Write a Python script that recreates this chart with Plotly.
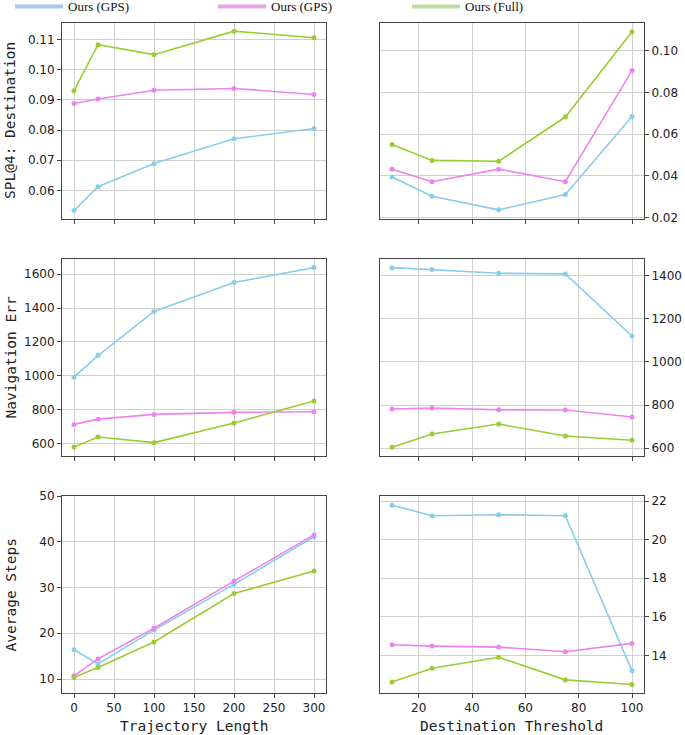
import plotly.graph_objects as go

# ---------------- data ----------------
traj_len = [0, 30, 100, 200, 300]
dest_thr = [10, 25, 50, 75, 100]

series_names = ["Ours (GPS)", "Ours (GPS)", "Ours (Full)"]

# SPL@4: Destination
spl_traj_blue = [0.0533, 0.0612, 0.0689, 0.0771, 0.0805]
spl_traj_pink = [0.0888, 0.0903, 0.0932, 0.0938, 0.0918]
spl_traj_green = [0.0930, 0.1083, 0.1050, 0.1128, 0.1106]
spl_thr_blue = [0.0394, 0.0302, 0.0237, 0.0310, 0.0685]
spl_thr_pink = [0.0432, 0.0372, 0.0432, 0.0372, 0.0905]
spl_thr_green = [0.0550, 0.0474, 0.0470, 0.0682, 0.1091]

# Navigation Err
nav_traj_blue = [991, 1119, 1380, 1551, 1639]
nav_traj_pink = [712, 743, 771, 783, 787]
nav_traj_green = [578, 637, 604, 720, 850]
nav_thr_blue = [1437, 1428, 1411, 1408, 1120]
nav_thr_pink = [782, 786, 778, 777, 745]
nav_thr_green = [605, 666, 712, 657, 637]

# Average Steps
steps_traj_blue = [16.4, 13.3, 20.7, 30.7, 41.1]
steps_traj_pink = [10.7, 14.4, 21.1, 31.4, 41.5]
steps_traj_green = [10.4, 12.5, 18.1, 28.7, 33.6]
steps_thr_blue = [21.78, 21.24, 21.29, 21.24, 13.2]
steps_thr_pink = [14.55, 14.48, 14.43, 14.19, 14.62]
steps_thr_green = [12.62, 13.33, 13.90, 12.73, 12.49]

# ---------------- styling ----------------
line_colors = ["#87CEEB", "#EE82EE", "#9ACD32"]
legend_colors = ["#a9c8ec", "#e6a2e2", "#b9dca4"]

W, H = 685, 735
xdom_left = [62 / W, 326 / W]
xdom_right = [380 / W, 644 / W]
rows_px = [(23, 219), (259, 456), (496, 693)]
ydoms = [[1 - b / H, 1 - t / H] for (t, b) in rows_px]

fig = go.Figure()

panels = [
    (0, 0, traj_len, [spl_traj_blue, spl_traj_pink, spl_traj_green]),
    (0, 1, dest_thr, [spl_thr_blue, spl_thr_pink, spl_thr_green]),
    (1, 0, traj_len, [nav_traj_blue, nav_traj_pink, nav_traj_green]),
    (1, 1, dest_thr, [nav_thr_blue, nav_thr_pink, nav_thr_green]),
    (2, 0, traj_len, [steps_traj_blue, steps_traj_pink, steps_traj_green]),
    (2, 1, dest_thr, [steps_thr_blue, steps_thr_pink, steps_thr_green]),
]

yranges = [
    [0.0505, 0.1155], [0.0193, 0.1133],
    [525, 1690], [564, 1477],
    [6.95, 50], [12.05, 22.26],
]
ytickvals = [
    [0.06, 0.07, 0.08, 0.09, 0.10, 0.11],
    [0.02, 0.04, 0.06, 0.08, 0.10],
    [600, 800, 1000, 1200, 1400, 1600],
    [600, 800, 1000, 1200, 1400],
    [10, 20, 30, 40, 50],
    [14, 16, 18, 20, 22],
]
ytickfmt = [".2f", ".2f", "d", "d", "d", "d"]

tick_font = dict(family="DejaVu Sans", size=12, color="#222222")
grid_color = "#d0d0d0"
frame_color = "#444444"

for i, (r, c, xs, ys_list) in enumerate(panels):
    ax_id = "" if i == 0 else str(i + 1)
    xref = "x" + ax_id
    yref = "y" + ax_id
    for k, ys in enumerate(ys_list):
        fig.add_trace(go.Scatter(
            x=xs, y=ys, mode="lines+markers",
            line=dict(color=line_colors[k], width=1.6),
            marker=dict(color=line_colors[k], size=5),
            name=series_names[k], showlegend=False,
            xaxis=xref, yaxis=yref,
        ))
    if c == 0:
        xr = [-15, 315]
        xt = [0, 50, 100, 150, 200, 250, 300]
    else:
        xr = [5.5, 104.5]
        xt = [20, 40, 60, 80, 100]
    fig.layout["xaxis" + ax_id] = dict(
        domain=xdom_left if c == 0 else xdom_right,
        anchor=yref, range=xr, tickvals=xt,
        showticklabels=(r == 2),
        ticks="outside", ticklen=4, tickcolor=frame_color,
        showgrid=True, gridcolor=grid_color, gridwidth=1,
        showline=True, mirror=True, linecolor=frame_color, linewidth=1,
        zeroline=False, tickfont=tick_font,
    )
    fig.layout["yaxis" + ax_id] = dict(
        domain=ydoms[r], anchor=xref, range=yranges[i],
        tickvals=ytickvals[i], tickformat=ytickfmt[i],
        side="left" if c == 0 else "right",
        ticks="outside", ticklen=4, tickcolor=frame_color,
        showgrid=True, gridcolor=grid_color, gridwidth=1,
        showline=True, mirror=True, linecolor=frame_color, linewidth=1,
        zeroline=False, tickfont=tick_font,
    )

annotations = []
mono = dict(family="DejaVu Sans Mono", size=14.5, color="#222222")
ylabels = ["SPL@4: Destination", "Navigation Err", "Average Steps"]
for r, lab in enumerate(ylabels):
    t, b = rows_px[r]
    annotations.append(dict(
        text=lab, xref="paper", yref="paper",
        x=10 / W, y=1 - ((t + b) / 2) / H,
        textangle=-90, showarrow=False, font=mono,
        xanchor="center", yanchor="middle",
    ))
annotations.append(dict(text="Trajectory Length", xref="paper", yref="paper",
                        x=((62 + 326) / 2) / W, y=1 - 726 / H, showarrow=False,
                        font=mono, xanchor="center", yanchor="middle"))
annotations.append(dict(text="Destination Threshold", xref="paper", yref="paper",
                        x=((380 + 644) / 2) / W, y=1 - 726 / H, showarrow=False,
                        font=mono, xanchor="center", yanchor="middle"))

# Legend (drawn as decoration at top)
shapes = []
legend_x = [15, 218, 412]
for k in range(3):
    x0 = legend_x[k]
    shapes.append(dict(type="line", xref="paper", yref="paper",
                       x0=x0 / W, x1=(x0 + 48) / W, y0=1 - 6.5 / H, y1=1 - 6.5 / H,
                       line=dict(color=legend_colors[k], width=4)))
    annotations.append(dict(text=series_names[k], xref="paper", yref="paper",
                            x=(x0 + 51) / W, y=1 - 7 / H, showarrow=False,
                            xanchor="left", yanchor="middle",
                            font=dict(family="Liberation Serif", size=13, color="#111111")))

fig.update_layout(
    width=W, height=H,
    margin=dict(l=0, r=0, t=0, b=0, autoexpand=False),
    paper_bgcolor="white", plot_bgcolor="white",
    showlegend=False,
    annotations=annotations, shapes=shapes,
)

fig.write_html(
    "out.html",
    config={"displayModeBar": False},
    post_script="document.body.style.margin='0';document.body.style.overflow='hidden';",
)
